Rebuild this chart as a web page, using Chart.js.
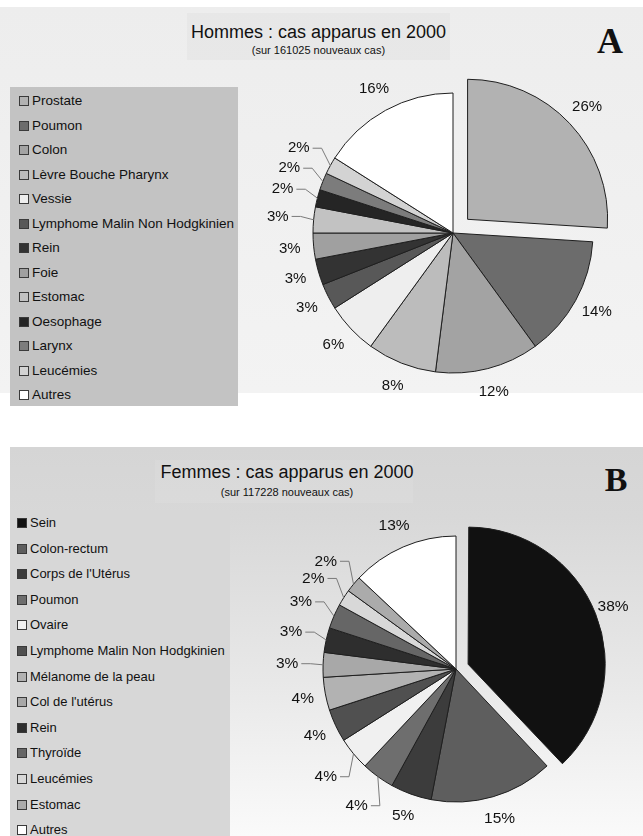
<!DOCTYPE html>
<html>
<head>
<meta charset="utf-8">
<script src="https://cdn.jsdelivr.net/npm/chart.js@4.4.0/dist/chart.umd.min.js"></script>
<style>
  body { margin: 0; width: 643px; height: 836px; background: #fff; overflow: hidden; position: relative;
         font-family: "Liberation Sans", Arial, sans-serif; color: #111; }
  .abs { position: absolute; }
  .panelA { left: 0; top: 7px; width: 643px; height: 386px; background: linear-gradient(#ededed, #f3f3f3); }
  .panelB { left: 10px; top: 447px; width: 633px; height: 389px;
            background: linear-gradient(#d5d5d5 0%, #d8d8d8 18%, #e8e8e8 60%, #fafafa 100%); }
  .tbox { background: rgba(0,0,0,0.025); }
  .title { text-align: center; font-size: 18px; line-height: 22px; white-space: nowrap; }
  .sub { text-align: center; font-size: 11px; line-height: 14px; white-space: nowrap; }
  .letter { font-family: "Liberation Serif", "Times New Roman", serif; font-weight: bold; text-align: center; }
  .legend { box-sizing: border-box; }
  .legend div { white-space: nowrap; }
  .legend span { display: inline-block; width: 8px; height: 8px; border: 1px solid #3a3a3a;
                 margin-right: 3px; vertical-align: -1px; }
</style>
</head>
<body>
<div class="abs panelA"></div>
<div class="abs panelB"></div>

<div class="abs tbox" style="left:187px;top:13px;width:263px;height:47px;"></div>
<div class="abs title" style="left:187px;top:21px;width:263px;">Hommes : cas apparus en 2000</div>
<div class="abs sub" style="left:187px;top:43px;width:263px;">(sur 161025 nouveaux cas)</div>
<div class="abs letter" style="left:585px;top:21px;width:50px;font-size:36px;line-height:40px;">A</div>

<div class="abs tbox" style="left:155px;top:460px;width:258px;height:43px;background:rgba(255,255,255,0.08);"></div>
<div class="abs title" style="left:155px;top:461px;width:264px;">Femmes : cas apparus en 2000</div>
<div class="abs sub" style="left:155px;top:485px;width:264px;">(sur 117228 nouveaux cas)</div>
<div class="abs letter" style="left:591px;top:460px;width:50px;font-size:34px;line-height:40px;">B</div>

<div id="legendA" class="abs legend" style="left:10px;top:87px;width:228px;height:319px;background:#c3c3c3;padding:2px 0 0 9px;font-size:13.5px;line-height:24.5px;"></div>
<div id="legendB" class="abs legend" style="left:10px;top:510px;width:220px;height:326px;background:#d7d7d7;padding:0 0 0 7px;font-size:13px;line-height:25.6px;"></div>

<canvas id="pieA" class="abs" width="380" height="380" style="left:263px;top:43px;"></canvas>
<canvas id="pieB" class="abs" width="380" height="380" style="left:266px;top:479px;"></canvas>

<script>
// Hommes (A)
var hommesLabels = ['Prostate', 'Poumon', 'Colon', 'Lèvre Bouche Pharynx', 'Vessie',
    'Lymphome Malin Non Hodgkinien', 'Rein', 'Foie', 'Estomac', 'Oesophage', 'Larynx', 'Leucémies', 'Autres'];
var hommesValues = [26, 14, 12, 8, 6, 3, 3, 3, 3, 2, 2, 2, 16];
var hommesColors = ['#b2b2b2', '#6c6c6c', '#a3a3a3', '#bcbcbc', '#eeeeee', '#585858', '#333333',
    '#a0a0a0', '#c2c2c2', '#252525', '#7c7c7c', '#d3d3d3', '#ffffff'];

// Femmes (B)
var femmesLabels = ['Sein', 'Colon-rectum', "Corps de l'Utérus", 'Poumon', 'Ovaire',
    'Lymphome Malin Non Hodgkinien', 'Mélanome de la peau', "Col de l'utérus", 'Rein', 'Thyroïde',
    'Leucémies', 'Estomac', 'Autres'];
var femmesValues = [38, 15, 5, 4, 4, 4, 4, 3, 3, 3, 2, 2, 13];
var femmesColors = ['#111111', '#5e5e5e', '#3c3c3c', '#6e6e6e', '#f0f0f0', '#505050', '#b2b2b2',
    '#a8a8a8', '#2e2e2e', '#666666', '#d8d8d8', '#ababab', '#ffffff'];

// build the grey legend boxes from the arrays
function buildLegend(id, labels, colors) {
    var box = document.getElementById(id);
    labels.forEach(function (lab, i) {
        var row = document.createElement('div');
        var sq = document.createElement('span');
        sq.style.background = colors[i];
        row.appendChild(sq);
        row.appendChild(document.createTextNode(lab));
        box.appendChild(row);
    });
}
buildLegend('legendA', hommesLabels, hommesColors);
buildLegend('legendB', femmesLabels, femmesColors);

// percentage labels outside the slices, some with leader lines
var pctLabels = {
    id: 'pctLabels',
    afterDatasetsDraw: function (chart, args, opts) {
        var ctx = chart.ctx;
        var meta = chart.getDatasetMeta(0);
        var values = chart.data.datasets[0].data;
        ctx.save();
        ctx.font = opts.font;
        ctx.fillStyle = '#111';
        ctx.textAlign = 'center';
        ctx.textBaseline = 'middle';
        ctx.strokeStyle = '#7a7a7a';
        ctx.lineWidth = 1;
        meta.data.forEach(function (arc, i) {
            var p = arc.getProps(['x', 'y', 'startAngle', 'endAngle', 'outerRadius'], true);
            var mid = (p.startAngle + p.endAngle) / 2;
            var off = (arc.options.offset || 0) / 4;
            var cx = p.x + Math.cos(mid) * off, cy = p.y + Math.sin(mid) * off;
            var lead = opts.leaders.indexOf(i) >= 0;
            var d = p.outerRadius + (lead ? opts.leaderGap : opts.gap);
            var lx = cx + Math.cos(mid) * d, ly = cy + Math.sin(mid) * d;
            var text = values[i] + '%';
            ctx.fillText(text, lx, ly);
            if (lead) {
                var w = ctx.measureText(text).width;
                var side = Math.cos(mid) < 0 ? 1 : -1;
                var sx = lx + side * (w / 2 + 3);
                var ex = cx + Math.cos(mid) * p.outerRadius, ey = cy + Math.sin(mid) * p.outerRadius;
                ctx.beginPath();
                ctx.moveTo(sx, ly);
                ctx.lineTo(sx + side * 9, ly);
                ctx.lineTo(ex, ey);
                ctx.stroke();
            }
        });
        ctx.restore();
    }
};

function makePie(id, values, colors, radius, explode, labelOpts) {
    return new Chart(document.getElementById(id), {
        type: 'pie',
        data: {
            datasets: [{
                data: values,
                backgroundColor: colors,
                borderColor: '#1e1e1e',
                borderWidth: 1,
                offset: function (c) { return c.dataIndex === 0 ? explode : 0; }
            }]
        },
        options: {
            responsive: false,
            animation: false,
            radius: radius,
            layout: { padding: 0 },
            plugins: {
                legend: { display: false },
                tooltip: { enabled: false },
                pctLabels: labelOpts
            }
        },
        plugins: [pctLabels]
    });
}

makePie('pieA', hommesValues, hommesColors, 140, 80,
    { font: '15px "Liberation Sans", Arial, sans-serif', gap: 24, leaderGap: 36, leaders: [8, 9, 10, 11] });
makePie('pieB', femmesValues, femmesColors, 133, 52,
    { font: '15.5px "Liberation Sans", Arial, sans-serif', gap: 23, leaderGap: 36, leaders: [3, 4, 7, 8, 9, 10, 11] });
</script>
</body>
</html>
